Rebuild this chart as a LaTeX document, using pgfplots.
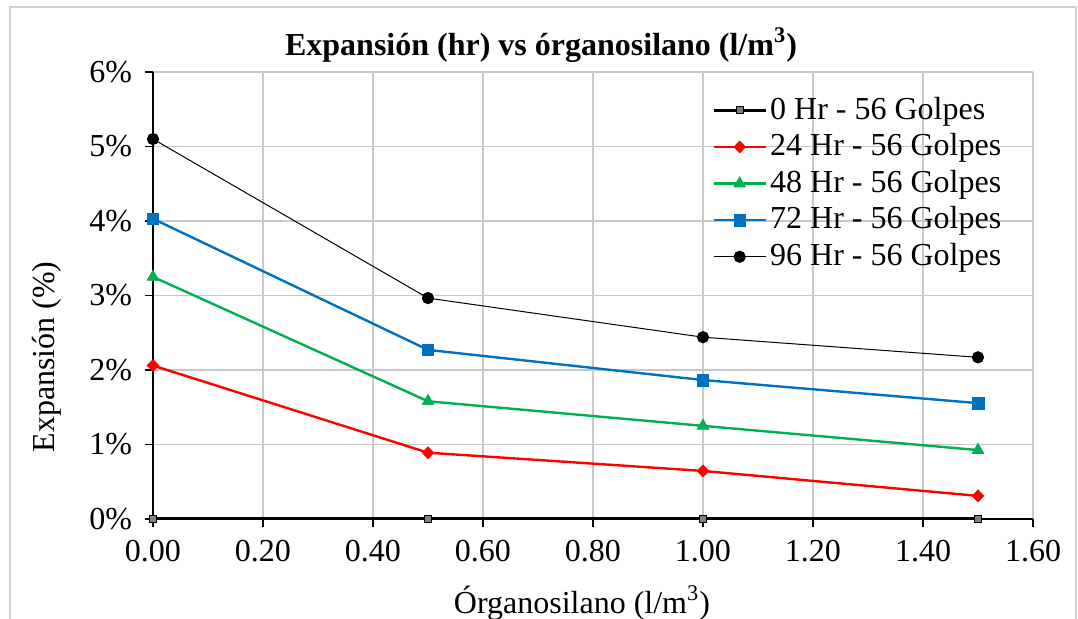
\documentclass[border=0pt]{standalone}
\usepackage{fontspec}
\setmainfont{Liberation Serif}
\usepackage{pgfplots}
\pgfplotsset{compat=1.18}
\definecolor{cRed}{HTML}{FF0000}
\definecolor{cGreen}{HTML}{00B050}
\definecolor{cBlue}{HTML}{0070C0}
\definecolor{cGrayMark}{HTML}{808080}
\definecolor{cGrid}{HTML}{C8C8C8}
\definecolor{cFrame}{HTML}{D0D0D0}
\begin{document}
\fontsize{16}{19}\selectfont
\begin{tikzpicture}
\useasboundingbox (-76.5pt,-50pt) rectangle (462.5pt,259.5pt);
\draw[cFrame, line width=0.6pt] (-71.5pt,-60pt) -- (-71.5pt,256pt) -- (461.5pt,256pt) -- (461.5pt,-60pt);
\begin{axis}[
  at={(0pt,0pt)}, anchor=origin,
  scale only axis,
  width=440pt, height=223.5pt,
  xmin=0, xmax=1.6, ymin=0, ymax=6,
  xtick={0,0.2,0.4,0.6,0.8,1.0,1.2,1.4,1.6},
  xticklabels={0.00,0.20,0.40,0.60,0.80,1.00,1.20,1.40,1.60},
  ytick={0,1,2,3,4,5,6},
  yticklabels={0\%,1\%,2\%,3\%,4\%,5\%,6\%},
  /pgf/number format/assume math mode=true,
  axis x line*=bottom, axis y line*=left,
  axis line style={black, line width=0.6pt},
  tick align=outside, major tick length=4pt,
  tick style={black, line width=0.6pt},
  grid=major, major grid style={cGrid, line width=0.6pt},
  xticklabel style={yshift=-1pt},
  yticklabel style={xshift=-1pt},
  clip=false,
  legend cell align=left,
  legend style={draw=none, fill=none, at={(0.635,0.952)}, anchor=north west,
    inner sep=0pt, row sep=1.8pt,
    nodes={inner sep=1.5pt}},
  legend image code/.code={\draw[mark repeat=2,mark phase=2] plot coordinates {(0pt,0pt)(13pt,0pt)(26pt,0pt)};},
]
\addplot[black, line width=1.5pt, mark=square*, mark size=1.8pt,
  mark options={fill=cGrayMark, draw=black, line width=0.5pt}]
  coordinates {(0,0) (0.5,0) (1.0,0) (1.5,0)};
\addlegendentry{0 Hr - 56 Golpes}
\addplot[cRed, line width=1.2pt, mark=diamond*, mark size=3pt,
  mark options={fill=cRed, draw=cRed, line width=0.3pt, xscale=1.3}]
  coordinates {(0,2.06) (0.5,0.89) (1.0,0.645) (1.5,0.31)};
\addlegendentry{24 Hr - 56 Golpes}
\addplot[cGreen, line width=1.2pt, mark=triangle*, mark size=3.4pt,
  mark options={fill=cGreen, draw=cGreen, line width=0.3pt}]
  coordinates {(0,3.25) (0.5,1.58) (1.0,1.25) (1.5,0.925)};
\addlegendentry{48 Hr - 56 Golpes}
\addplot[cBlue, line width=1.2pt, mark=square*, mark size=2.9pt,
  mark options={fill=cBlue, draw=cBlue, line width=0.3pt}]
  coordinates {(0,4.03) (0.5,2.27) (1.0,1.865) (1.5,1.555)};
\addlegendentry{72 Hr - 56 Golpes}
\addplot[black, line width=0.5pt, mark=*, mark size=2.8pt,
  mark options={fill=black, draw=black}]
  coordinates {(0,5.10) (0.5,2.965) (1.0,2.44) (1.5,2.17)};
\addlegendentry{96 Hr - 56 Golpes}
\end{axis}
\node[font=\bfseries] at (194pt,237pt) {Expansión (hr) vs órganosilano (l/m\textsuperscript{3})};
\node[rotate=90] at (-53pt,81pt) {Expansión (\%)};
\node at (214.5pt,-42pt) {Órganosilano (l/m\textsuperscript{3})};
\end{tikzpicture}
\end{document}
